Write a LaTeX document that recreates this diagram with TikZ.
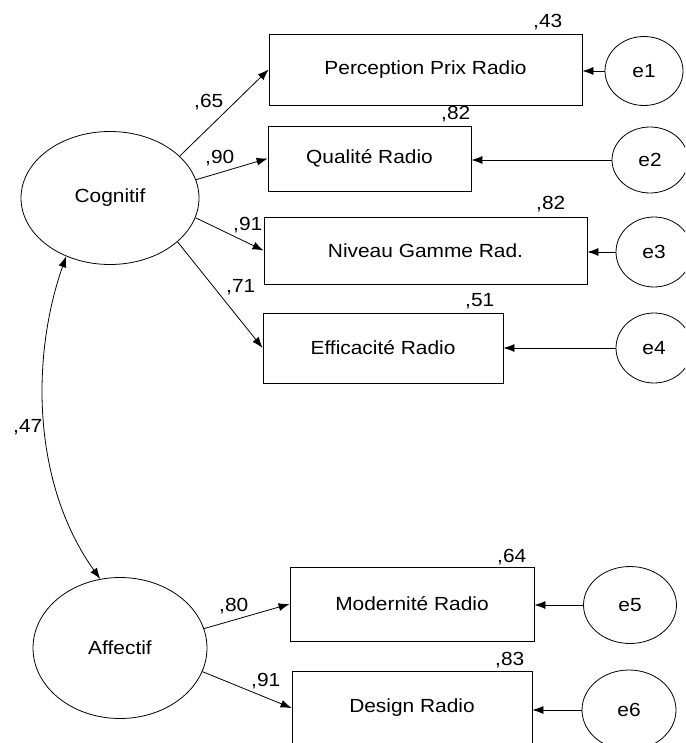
\documentclass[tikz,border=0pt]{standalone}
\usepackage{fontspec}
\setmainfont[FakeStretch=1.1]{Liberation Sans}
\usetikzlibrary{shapes.geometric,arrows.meta}
\begin{document}
\begin{tikzpicture}[x=1pt,y=-1pt,
  every node/.style={font=\fontsize{19}{22}\selectfont, inner sep=0pt},
  obs/.style={draw, rectangle, line width=0.8pt},
  lat/.style={draw, ellipse, line width=0.8pt},
  lbl/.style={anchor=base west},
  arr/.style={line width=0.8pt, -{Latex[length=11pt,width=8pt]}},
  darr/.style={line width=0.8pt, {Latex[length=11pt,width=8pt]}-{Latex[length=11pt,width=8pt]}}
]
\useasboundingbox (0,0) rectangle (685,743);
\clip (0,0) rectangle (685,743);
% latent variables
\node[lat, minimum width=178pt, minimum height=133pt] (cog) at (110,198) {Cognitif};
\node[lat, minimum width=174pt, minimum height=141pt] (aff) at (120,648) {Affectif};
% observed
\node[obs, minimum width=313pt, minimum height=71pt] (b1) at (425.5,69.5) {Perception Prix Radio};
\node[obs, minimum width=203pt, minimum height=65pt] (b2) at (369.5,158.5) {Qualité Radio};
\node[obs, minimum width=323pt, minimum height=67pt] (b3) at (425.5,250.5) {Niveau Gamme Rad.};
\node[obs, minimum width=240pt, minimum height=70pt] (b4) at (383,348) {Efficacité Radio};
\node[obs, minimum width=244pt, minimum height=74pt] (b5) at (412,604) {Modernité Radio};
\node[obs, minimum width=240pt, minimum height=74pt] (b6) at (412,708) {Design Radio};
% errors
\node[lat, minimum width=78pt, minimum height=69pt] (e1) at (644,71) {e1};
\node[lat, minimum width=76pt, minimum height=66pt] (e2) at (650,160) {e2};
\node[lat, minimum width=76pt, minimum height=70pt] (e3) at (654,252) {e3};
\node[lat, minimum width=76pt, minimum height=70pt] (e4) at (654,348) {e4};
\node[lat, minimum width=93pt, minimum height=77pt] (e5) at (630,605) {e5};
\node[lat, minimum width=94pt, minimum height=80pt] (e6) at (629,710) {e6};
% loadings
\draw[arr] (cog.31) -- (b1.west);
\draw[arr] (cog.12) -- (b2.west);
\draw[arr] (cog.-13) -- (b3.west);
\draw[arr] (cog.-33) -- (b4.west);
\draw[arr] (aff.13.5) -- (b5.west);
\draw[arr] (aff.-16) -- (b6.west);
% error arrows
\draw[arr] (e1.west) -- (e1.west -| b1.east);
\draw[arr] (e2.west) -- (e2.west -| b2.east);
\draw[arr] (e3.west) -- (e3.west -| b3.east);
\draw[arr] (e4.west) -- (e4.west -| b4.east);
\draw[arr] (e5.west) -- (e5.west -| b5.east);
\draw[arr] (e6.west) -- (e6.west -| b6.east);
% correlation
\draw[darr] (cog.233) .. controls (30,360) and (33,485) .. (aff.106);
% labels
\node[lbl] (l65) at (194,108) {,65};
\node[lbl] (l90) at (205,164) {,90};
\node[lbl] (l91a) at (233,230) {,91};
\node[lbl] (l71) at (226,292) {,71};
\node[lbl] (l43) at (533,28) {,43};
\node[lbl] (l82a) at (441,120) {,82};
\node[lbl] (l82b) at (536,210) {,82};
\node[lbl] (l51) at (465,306) {,51};
\node[lbl] (l47) at (13,432) {,47};
\node[lbl] (l80) at (219,611) {,80};
\node[lbl] (l91b) at (251,686) {,91};
\node[lbl] (l64) at (497,562) {,64};
\node[lbl] (l83) at (495,665) {,83};
\end{tikzpicture}
\end{document}
